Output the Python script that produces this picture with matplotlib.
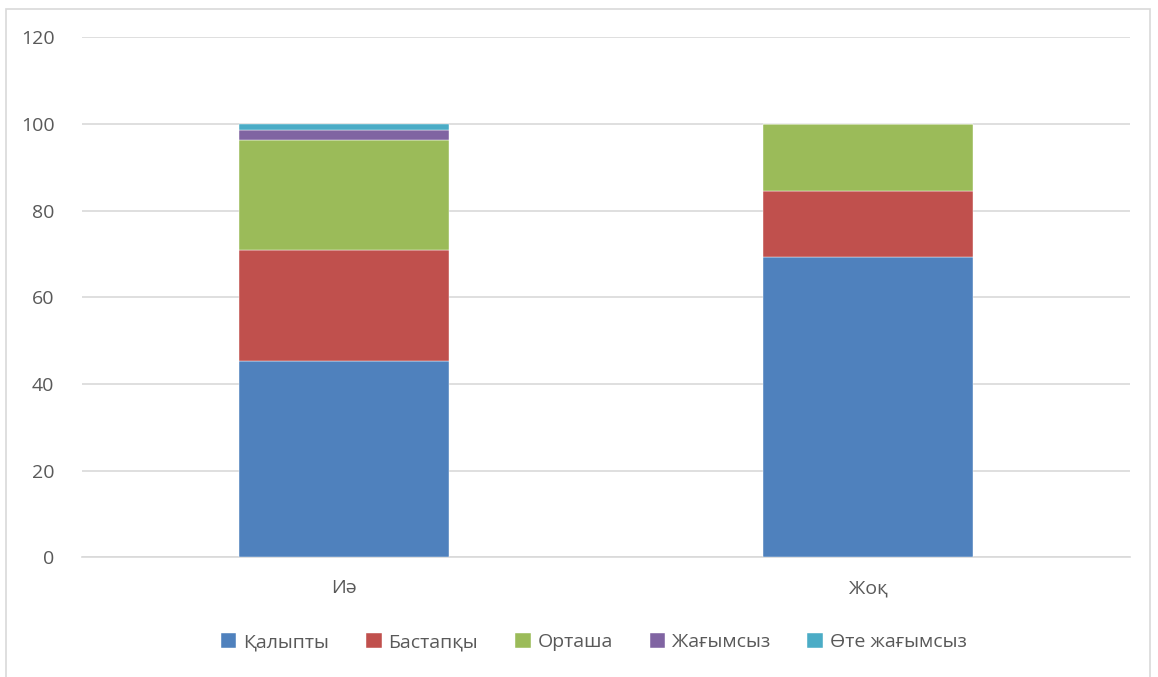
import matplotlib.pyplot as plt
from matplotlib.patches import Rectangle

plt.rcParams["font.family"] = ["Open Sans", "DejaVu Sans"]

categories = ["Иә", "Жоқ"]
series_names = ["Қалыпты", "Бастапқы", "Орташа", "Жағымсыз", "Өте жағымсыз"]
normal = [45.2, 69.2]
initial = [25.7, 15.4]
medium = [25.4, 15.4]
negative = [2.3, 0.0]
very_negative = [1.4, 0.0]
y_ticks = [0, 20, 40, 60, 80, 100, 120]

colors = ["#4F81BD", "#C0504D", "#9BBB59", "#8064A2", "#4BACC6"]
text_color = "#595959"
grid_color = "#D9D9D9"

fig = plt.figure(figsize=(11.58, 6.77), dpi=100)
fig.patches.append(Rectangle((0.005, -0.02), 0.988, 1.007, transform=fig.transFigure,
                             fill=False, edgecolor=grid_color, linewidth=1.2))
ax = fig.add_axes([0.071, 0.177, 0.905, 0.768])

xs = range(len(categories))
bottom = [0.0] * len(categories)
for name, values, color in zip(series_names,
                               [normal, initial, medium, negative, very_negative],
                               colors):
    ax.bar(xs, values, width=0.4, bottom=bottom, color=color, label=name,
           edgecolor="white", linewidth=0.3, zorder=3)
    bottom = [b + v for b, v in zip(bottom, values)]

ax.set_xlim(-0.5, 1.5)
ax.set_ylim(0, 120)
ax.set_yticks(y_ticks)
ax.set_xticks(list(xs), categories)
ax.yaxis.grid(True, color=grid_color, linewidth=1.2, zorder=0)
for side in ("top", "right", "left"):
    ax.spines[side].set_visible(False)
ax.spines["bottom"].set_color(grid_color)
ax.spines["bottom"].set_linewidth(1.2)
ax.tick_params(axis="both", length=0, labelsize=14, colors=text_color)
ax.tick_params(axis="y", pad=20)
ax.tick_params(axis="x", pad=16)

ax.legend(loc="upper center", bbox_to_anchor=(0.488, -0.112), ncol=5, frameon=False,
          fontsize=14, handlelength=0.8, handleheight=0.8, columnspacing=1.9,
          handletextpad=0.35, labelcolor=text_color)

fig.savefig("out.png", dpi=100)
